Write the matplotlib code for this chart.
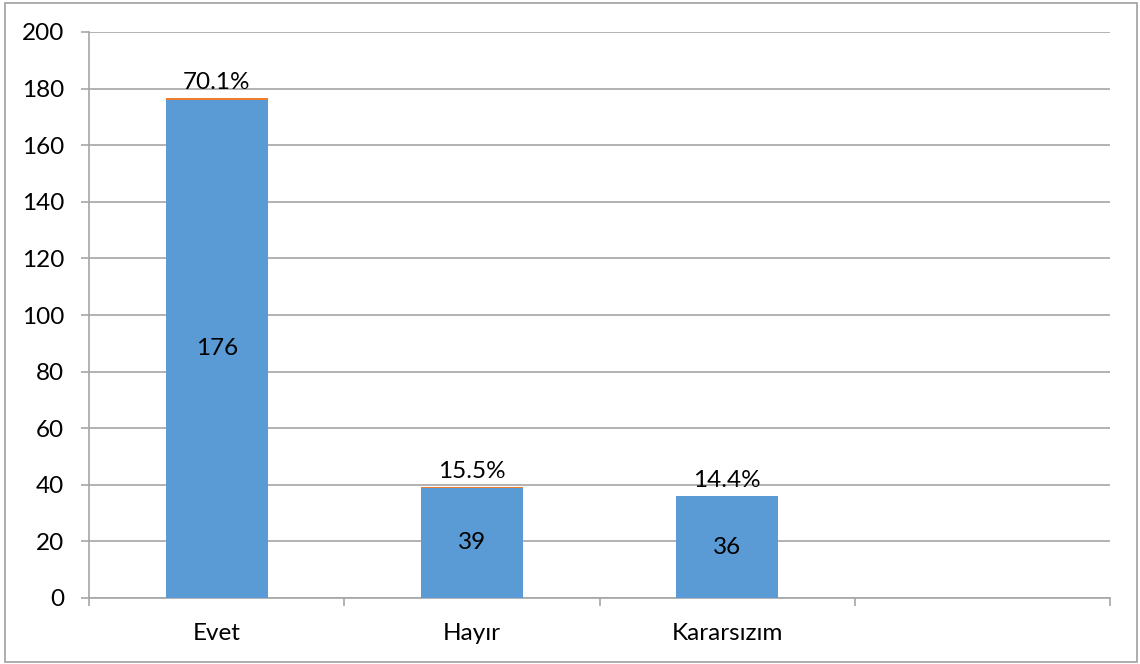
import matplotlib.pyplot as plt
import numpy as np
from matplotlib.patches import Rectangle

categories = ["Evet", "Hayır", "Kararsızım", ""]
counts = [176, 39, 36, 0]
shares = [0.701, 0.155, 0.144, 0.0]
share_labels = ["70.1%", "15.5%", "14.4%", ""]
y_ticks = [0, 20, 40, 60, 80, 100, 120, 140, 160, 180, 200]

BLUE = "#5B9BD5"
ORANGE = "#ED7D31"
GRID = "#A6A6A6"
FS = 17.5

plt.rcParams.update({"font.family": ["Lato", "DejaVu Sans"], "font.size": FS})

fig = plt.figure(figsize=(11.4, 6.64), dpi=100)
fig.patch.set_facecolor("white")
fig.patches.append(
    Rectangle((5 / 1140, 2 / 664), 1132 / 1140, 659 / 664, transform=fig.transFigure,
              fill=False, edgecolor="#A0A0A0", linewidth=1.2)
)
ax = fig.add_axes([89 / 1140, 66 / 664, 1021 / 1140, 566 / 664])

x = np.arange(len(categories))
width = 0.40
ax.bar(x, counts, width, color=BLUE, zorder=3)
ax.bar(x, shares, width, bottom=counts, color=ORANGE, zorder=3)

for xi, c, s, lab in zip(x, counts, shares, share_labels):
    if c == 0:
        continue
    ax.text(xi, c / 2, str(c), ha="center", va="center", fontsize=FS, color="black", zorder=4)
    ax.annotate(lab, xy=(xi, c + s), xytext=(0, 3.5), textcoords="offset points",
                ha="center", va="bottom", fontsize=FS, color="black")

ax.set_xlim(-0.5, len(categories) - 0.5)
ax.set_ylim(0, 200)
ax.set_yticks(y_ticks)
ax.set_xticks(x)
ax.set_xticklabels(categories)
ax.set_xticks(np.arange(len(categories) + 1) - 0.5, minor=True)
ax.tick_params(axis="x", which="major", length=0, pad=18)
ax.tick_params(axis="x", which="minor", length=6, width=1.2, color=GRID, direction="out")
ax.tick_params(axis="y", length=6, width=1.2, color=GRID, direction="out", pad=12)

ax.grid(axis="y", color=GRID, linewidth=1.2, zorder=0)
ax.set_axisbelow(True)
for side in ("top", "right"):
    ax.spines[side].set_visible(False)
for side in ("left", "bottom"):
    ax.spines[side].set_color(GRID)
    ax.spines[side].set_linewidth(1.2)

fig.savefig("out.png", dpi=100)
